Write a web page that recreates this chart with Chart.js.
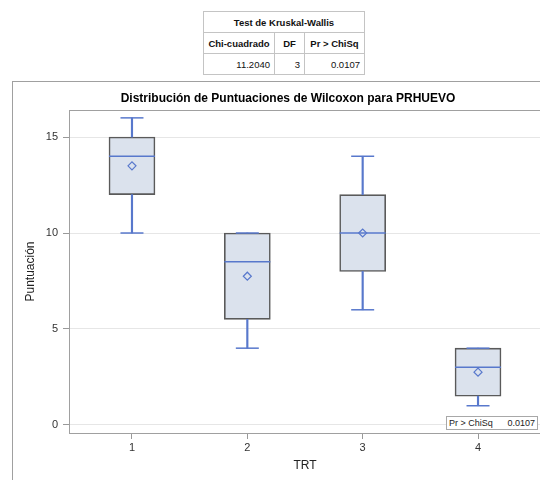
<!DOCTYPE html>
<html>
<head>
<meta charset="utf-8">
<script src="https://cdn.jsdelivr.net/npm/chart.js@4.4.0/dist/chart.umd.min.js"></script>
<style>
  body { margin: 0; width: 540px; height: 480px; overflow: hidden; background: #fff; position: relative; font-family: "Liberation Sans", Arial, sans-serif; }
  #kw { position: absolute; left: 203px; top: 11px; border-collapse: collapse; font-size: 9.5px; color: #111; }
  #kw td, #kw th { border: 1px solid #c4c4c4; height: 20px; padding: 0 4px; }
  #kw th { font-weight: bold; text-align: center; }
  #kw td { text-align: right; }
  #frame { position: absolute; left: 12px; top: 81px; width: 560px; height: 420px; border: 1px solid #a0a0a0; }
  #chartTitle { position: absolute; left: 88px; width: 400px; top: 91px; text-align: center; font-weight: bold; font-size: 12px; line-height: 14px; color: #000; }
  #inset { position: absolute; left: 446px; top: 416px; width: 88px; height: 12px; border: 1px solid #a8a8a8; background: #fff; font-size: 9px; line-height: 12px; color: #222; padding: 0 0 0 2px; }
  #inset span { float: right; padding-right: 2px; }
  canvas { position: absolute; left: 0; top: 0; }
</style>
</head>
<body>
<table id="kw">
  <tr><th colspan="3">Test de Kruskal-Wallis</th></tr>
  <tr><th style="width:62px">Chi-cuadrado</th><th style="width:21px">DF</th><th style="width:51px">Pr &gt; ChiSq</th></tr>
  <tr><td>11.2040</td><td>3</td><td>0.0107</td></tr>
</table>
<div id="frame"><canvas id="boxChart" width="540" height="398"></canvas></div>
<div id="chartTitle">Distribución de Puntuaciones de Wilcoxon para PRHUEVO</div>
<div id="inset">Pr &gt; ChiSq<span>0.0107</span></div>
<script>
// Datos del box plot (TRT vs Puntuación)
const trt = [1, 2, 3, 4];
const whiskerLow = [10, 4, 6, 1];
const q1 = [12, 5.5, 8, 1.5];
const medians = [14, 8.5, 10, 3];
const q3 = [15, 10, 12, 4];
const whiskerHigh = [16, 10, 14, 4];
const means = [13.5, 7.75, 10, 2.75];
const yTicks = [0, 5, 10, 15];

const blue = "#5878cc";
const boxFill = "#dbe2ed";
const boxLine = "#5a5a5a";

function pairs(a, b) {
  return trt.map((t, i) => ({ x: t, y: [a[i], b[i]] }));
}
function points(v) {
  return trt.map((t, i) => ({ x: t, y: v[i] }));
}

// marco del area de grafico
const framePlugin = {
  id: "frame",
  beforeDatasetsDraw(chart) {
    const a = chart.chartArea;
    const ctx = chart.ctx;
    ctx.save();
    ctx.strokeStyle = "#a0a0a0";
    ctx.lineWidth = 1;
    ctx.strokeRect(Math.round(a.left) + 0.5, Math.round(a.top) + 0.5, Math.round(a.right - a.left), Math.round(a.bottom - a.top));
    ctx.restore();
  },
};

new Chart(document.getElementById("boxChart"), {
  data: {
    datasets: [
      {
        type: "line",
        label: "Media",
        data: points(means),
        showLine: false,
        pointStyle: "rectRot",
        pointRadius: 4,
        pointBorderWidth: 1.2,
        pointBorderColor: blue,
        pointBackgroundColor: "rgba(0,0,0,0)",
        order: 0,
      },
      {
        type: "line",
        label: "Mediana",
        data: points(medians),
        showLine: false,
        pointStyle: "line",
        pointRadius: 23,
        pointBorderWidth: 1.5,
        pointBorderColor: blue,
        order: 1,
      },
      {
        type: "line",
        label: "Max",
        data: points(whiskerHigh),
        showLine: false,
        pointStyle: "line",
        pointRadius: 11.5,
        pointBorderWidth: 1.5,
        pointBorderColor: blue,
        order: 2,
      },
      {
        type: "line",
        label: "Min",
        data: points(whiskerLow),
        showLine: false,
        pointStyle: "line",
        pointRadius: 11.5,
        pointBorderWidth: 1.5,
        pointBorderColor: blue,
        order: 2,
      },
      {
        type: "bar",
        label: "Bigote sup",
        data: pairs(q3, whiskerHigh),
        backgroundColor: blue,
        borderWidth: 0,
        barThickness: 1.5,
        grouped: false,
        order: 3,
      },
      {
        type: "bar",
        label: "Bigote inf",
        data: pairs(whiskerLow, q1),
        backgroundColor: blue,
        borderWidth: 0,
        barThickness: 1.5,
        grouped: false,
        order: 3,
      },
      {
        type: "bar",
        label: "Caja",
        data: pairs(q1, q3),
        backgroundColor: boxFill,
        borderColor: boxLine,
        borderWidth: 1.6,
        borderSkipped: false,
        barThickness: 46,
        grouped: false,
        order: 4,
      },
    ],
  },
  options: {
    responsive: false,
    animation: false,
    layout: { autoPadding: false, padding: { left: 0, right: 12, top: 28, bottom: 0 } },
    plugins: {
      legend: { display: false },
      tooltip: { enabled: false },
    },
    scales: {
      x: {
        type: "linear",
        min: 0.454,
        max: 4.546,
        offset: false,
        afterFit(scale) {
          scale.height = 47;
          scale.paddingLeft = 0;
          scale.paddingRight = 0;
        },
        ticks: { stepSize: 1, includeBounds: false, padding: 2, color: "#333", font: { size: 11 } },
        afterBuildTicks(scale) { scale.ticks = trt.map((v) => ({ value: v })); },
        grid: { offset: false, drawOnChartArea: false, tickLength: 6, tickColor: "#999" },
        border: { display: false },
        title: { display: true, text: "TRT", color: "#222", font: { size: 12 }, padding: { top: 7, bottom: 7 } },
      },
      y: {
        min: -0.42,
        max: 16.41,
        afterFit(scale) {
          scale.width = 56;
          scale.paddingTop = 0;
          scale.paddingBottom = 0;
        },
        afterBuildTicks(scale) { scale.ticks = yTicks.map((v) => ({ value: v })); },
        ticks: { includeBounds: false, padding: 5, color: "#333", font: { size: 11 } },
        grid: { color: "#e6e6e6", tickLength: 6, tickColor: "#999" },
        border: { display: false },
        title: { display: true, text: "Puntuación", color: "#222", font: { size: 12 }, padding: { top: 10, bottom: 10 } },
      },
    },
  },
  plugins: [framePlugin],
});
</script>
</body>
</html>
